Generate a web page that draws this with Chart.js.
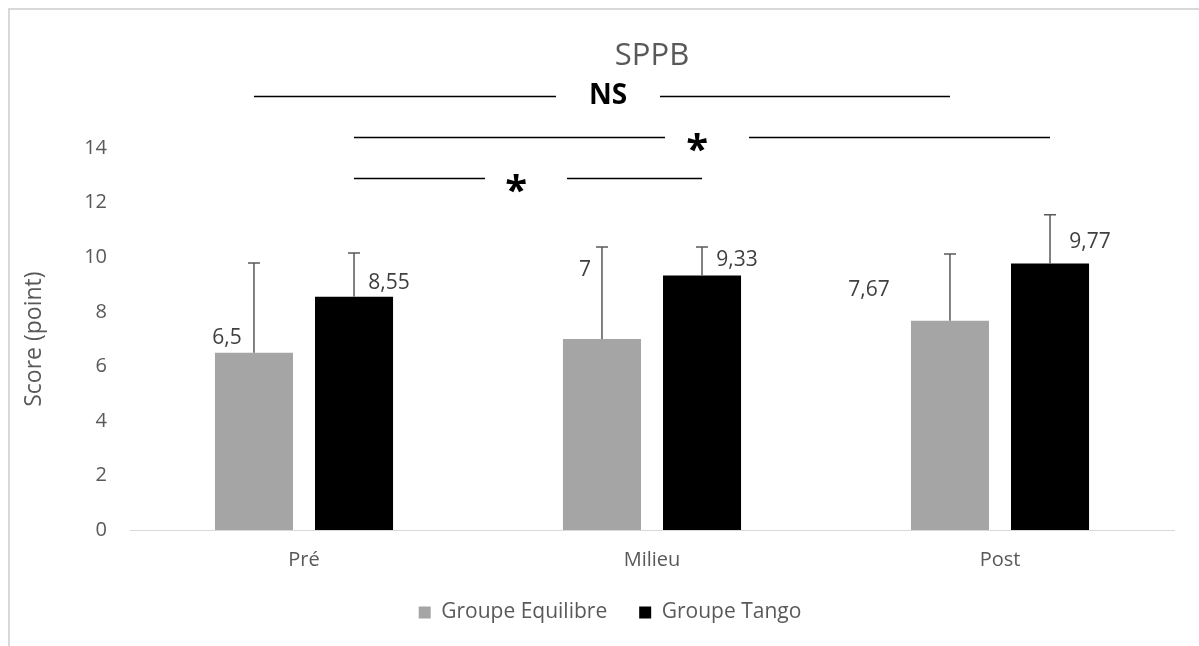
<!DOCTYPE html>
<html><head><meta charset="utf-8">
<script src="https://cdn.jsdelivr.net/npm/chart.js@4"></script>
<style>html,body{margin:0;padding:0;background:#fff;overflow:hidden}</style>
</head><body>
<canvas id="c" width="1199" height="646"></canvas>
<script>
const categories = ['Pré', 'Milieu', 'Post'];
const seriesNames = ['Groupe Equilibre', 'Groupe Tango'];
const equilibreMeans = [6.5, 7, 7.67];
const tangoMeans = [8.55, 9.33, 9.77];
const equilibreSD = [3.29, 3.38, 2.45];
const tangoSD = [1.61, 1.05, 1.79];
const yTicks = [0, 2, 4, 6, 8, 10, 12, 14];
const sigLabels = ['NS', '*', '*'];
const sigLevels = [15.92, 14.41, 12.89];
const sigFrom = [[0, 0], [0, 1], [0, 1]];
const sigTo = [[2, 0], [2, 1], [1, 1]];

const FONT = "'Open Sans', sans-serif";
const TEXT = '#595959';
const fmt = v => String(v).replace('.', ',');

const frame = {
  id: 'frame',
  beforeDraw(chart) {
    const ctx = chart.ctx;
    ctx.save();
    ctx.fillStyle = '#fff';
    ctx.fillRect(0, 0, chart.width, chart.height);
    ctx.fillStyle = '#d9d9d9';
    ctx.fillRect(8, 8, chart.width - 8, 2);
    ctx.fillRect(8, 8, 2, chart.height - 8);
    ctx.restore();
  },
  afterLayout(chart) {
    const lg = chart.legend;
    if (lg) { lg.left += 18; lg.right += 18; }
  }
};

const overlay = {
  id: 'overlay',
  afterDatasetsDraw(chart, args, opts) {
    const ctx = chart.ctx;
    const ys = chart.scales.y;
    const means = [equilibreMeans, tangoMeans];
    const sds = [equilibreSD, tangoSD];
    ctx.save();
    chart.data.datasets.forEach((ds, di) => {
      const meta = chart.getDatasetMeta(di);
      meta.data.forEach((bar, i) => {
        const top = ys.getPixelForValue(means[di][i] + sds[di][i]);
        ctx.strokeStyle = '#595959';
        ctx.lineWidth = 1.5;
        ctx.beginPath();
        ctx.moveTo(bar.x, bar.y);
        ctx.lineTo(bar.x, top);
        ctx.moveTo(bar.x - 6, top);
        ctx.lineTo(bar.x + 6, top);
        ctx.stroke();
        const off = opts.labelOffsets[di][i];
        ctx.fillStyle = '#404040';
        ctx.font = '21px ' + FONT;
        ctx.textAlign = 'center';
        ctx.textBaseline = 'middle';
        ctx.fillText(fmt(means[di][i]), bar.x + off[0], bar.y + off[1]);
      });
    });
    const barX = p => chart.getDatasetMeta(p[1]).data[p[0]].x;
    sigLabels.forEach((lab, k) => {
      const x1 = barX(sigFrom[k]), x2 = barX(sigTo[k]);
      const yy = Math.round(ys.getPixelForValue(sigLevels[k])) + 0.5;
      const mid = (x1 + x2) / 2 + opts.gapShift[k];
      const gap = opts.gaps[k];
      ctx.strokeStyle = '#000';
      ctx.lineWidth = 1.3;
      ctx.beginPath();
      ctx.moveTo(x1, yy); ctx.lineTo(mid - gap, yy);
      ctx.moveTo(mid + gap, yy); ctx.lineTo(x2, yy);
      ctx.stroke();
      ctx.fillStyle = '#000';
      ctx.textAlign = 'center';
      if (lab === '*') {
        ctx.font = 'bold 40px ' + FONT;
        ctx.textBaseline = 'alphabetic';
        ctx.fillText(lab, mid + opts.textShift[k], yy + 25);
      } else {
        ctx.font = 'bold 28px ' + FONT;
        ctx.textBaseline = 'middle';
        ctx.fillText(lab, mid + opts.textShift[k], yy);
      }
    });
    ctx.restore();
  }
};

new Chart(document.getElementById('c'), {
  type: 'bar',
  data: {
    labels: categories,
    datasets: [
      { label: seriesNames[0], data: equilibreMeans, backgroundColor: '#A5A5A5', borderWidth: 0,
        barPercentage: 0.78, categoryPercentage: 0.575 },
      { label: seriesNames[1], data: tangoMeans, backgroundColor: '#000000', borderWidth: 0,
        barPercentage: 0.78, categoryPercentage: 0.575 }
    ]
  },
  options: {
    responsive: false,
    animation: false,
    events: [],
    devicePixelRatio: 1,
    layout: { padding: { left: 10, right: 25, top: 0, bottom: 13 } },
    plugins: {
      title: {
        display: true, text: 'SPPB', color: TEXT, fullSize: false,
        font: { family: FONT, size: 31, weight: 'normal' },
        padding: { top: 38, bottom: 73 }
      },
      legend: {
        position: 'bottom',
        labels: {
          boxWidth: 12, boxHeight: 12, color: TEXT, padding: 32,
          font: { family: FONT, size: 21 }
        }
      },
      tooltip: { enabled: false },
      overlay: {
        labelOffsets: [[[-27, -15], [-17, -69], [-81, -31]], [[35, -14], [35, -16], [40, -22]]],
        gaps: [52, 42, 41],
        gapShift: [6, 5, -2],
        textShift: [0, -10, -10]
      }
    },
    scales: {
      x: {
        grid: { display: false, drawTicks: false },
        border: { display: true, color: '#d9d9d9', width: 1 },
        ticks: { color: TEXT, padding: 18, font: { family: FONT, size: 20 } },
        afterFit(s) { s.height = 40; }
      },
      y: {
        min: 0, max: 14,
        grid: { display: false, drawTicks: false },
        border: { display: false },
        afterBuildTicks(s) { s.ticks = yTicks.map(v => ({ value: v })); },
        ticks: { color: TEXT, padding: 23, font: { family: FONT, size: 20 } },
        title: { display: true, text: 'Score (point)', color: TEXT,
          font: { family: FONT, size: 23 }, padding: { top: 11, bottom: 0 } },
        afterFit(s) { s.width = 120; }
      }
    }
  },
  plugins: [frame, overlay]
});
</script>
</body></html>
